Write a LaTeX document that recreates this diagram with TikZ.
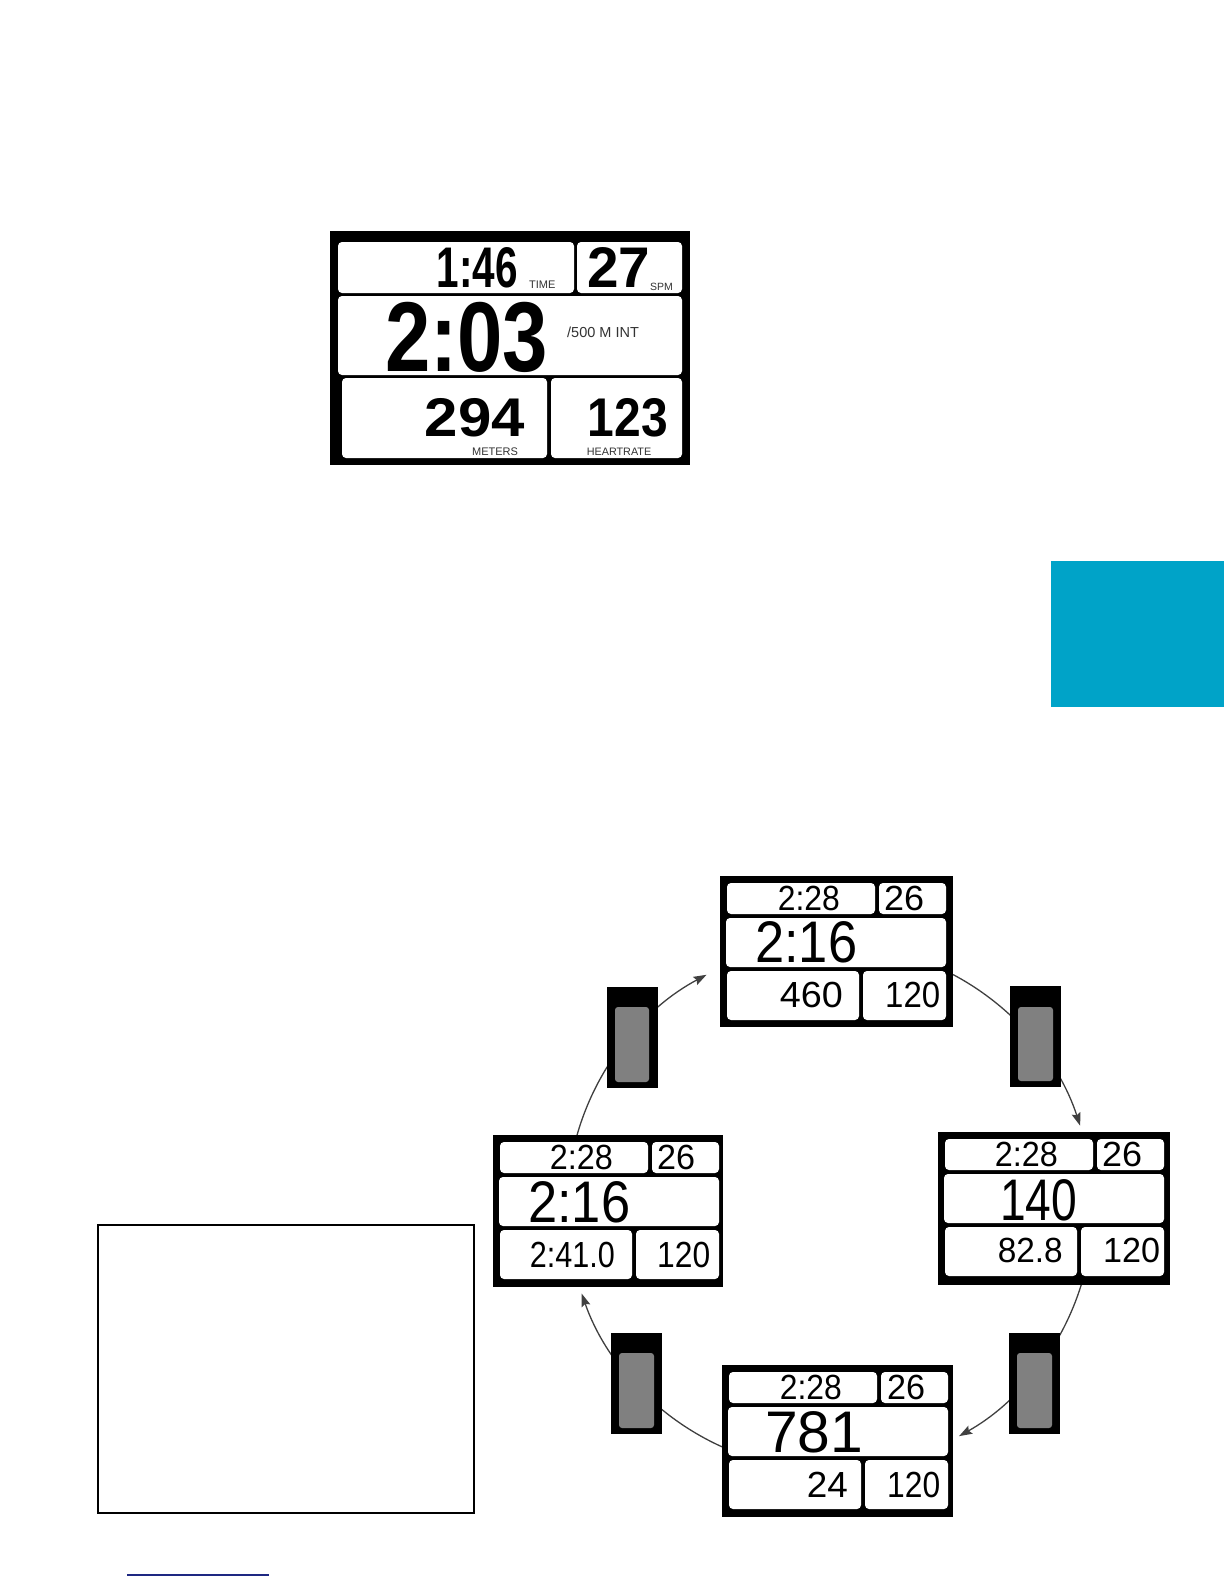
\documentclass[tikz,border=0pt]{standalone}
\usepackage{fontspec}
\usepackage{graphicx}
\setmainfont{Liberation Sans}
\usetikzlibrary{arrows.meta,calc}
\definecolor{tabblue}{RGB}{0,163,200}
\definecolor{btngray}{RGB}{128,128,128}
\definecolor{arcgray}{RGB}{64,64,64}
\definecolor{linkblue}{RGB}{30,40,130}
\newcommand{\lcdtxt}[3]{\resizebox{#1pt}{#2pt}{\smash{#3}\rule{0pt}{0.716em}}}
\newcommand{\minipanels}{%
  \fill[panel] (7,7) rectangle (155,38);
  \fill[panel] (159,7) rectangle (226,38);
  \fill[panel] (6,42) rectangle (226,91);
  \fill[panel] (7,95) rectangle (139,144);
  \fill[panel] (143,95) rectangle (226,144);}
\begin{document}
\begin{tikzpicture}[x=1pt,y=-1pt,
  outerbox/.style 2 args={fill=black, inner sep=0pt, minimum width=#1pt, minimum height=#2pt, anchor=north west},
  panel/.style={fill=white, rounded corners=4pt},
  digits/.style={inner sep=0pt, text=black},
  bigdigits/.style={inner sep=0pt, text=black, font=\bfseries},
  lbl/.style={inner sep=0pt, text=black!80, font=\fontsize{11}{11}\selectfont},
  btnbox/.style={fill=black, inner sep=0pt, minimum width=51pt, minimum height=101pt, anchor=north west},
  btnface/.style={fill=btngray, rounded corners=3pt},
  conn/.style={draw=arcgray, line width=1.3pt, -{Stealth[length=13pt,width=9pt,inset=2pt]}}]
\useasboundingbox (0,0) rectangle (1224,1584);
\fill[white] (0,0) rectangle (1224,1584);

% ---------- main display ----------
\node[outerbox={360}{234}] (main) at (330,231) {};
\fill[panel] (338,242) rectangle (574,293);
\fill[panel] (577,242) rectangle (682,293);
\fill[panel] (338,296) rectangle (682,375);
\fill[panel] (342,378) rectangle (547,458);
\fill[panel] (551,378) rectangle (682,458);
\node[bigdigits, anchor=south east] (mtime) at (518,288) {\lcdtxt{81}{41}{1:46}};
\node[lbl, anchor=base west] (mtimel) at (529,288) {TIME};
\node[bigdigits, anchor=south west] (mspm) at (587,288) {\lcdtxt{63}{41}{27}};
\node[lbl, anchor=base west, font=\fontsize{10.5}{10.5}\selectfont] (mspml) at (650,290) {SPM};
\node[bigdigits, anchor=south west] (mpace) at (385,372) {\lcdtxt{163}{71}{2:03}};
\node[lbl, anchor=base west, font=\fontsize{14.5}{14.5}\selectfont] (mpacel) at (567,337) {/500 M INT};
\node[bigdigits, anchor=south east] (mmet) at (525,437) {\lcdtxt{100}{39}{294}};
\node[lbl, anchor=base] (mmetl) at (495,455) {METERS};
\node[bigdigits, anchor=south east] (mhr) at (668,437) {\lcdtxt{80}{39}{123}};
\node[lbl, anchor=base, font=\fontsize{10.8}{10.8}\selectfont] (mhrl) at (619,455) {HEARTRATE};

% ---------- blue tab ----------
\fill[tabblue] (1051,561) rectangle (1224,707);

% ---------- cycle arcs ----------
\coordinate (cc) at (830,1207);
\coordinate (a1s) at ($(cc)+(195.9:263)$);
\coordinate (a2s) at ($(cc)+(297.9:263)$);
\coordinate (a3s) at ($(cc)+(17.25:263)$);
\coordinate (a4s) at ($(cc)+(114.2:263)$);
\draw[conn] (a1s) arc[start angle=195.9, end angle=242, radius=263];
\draw[conn] (a2s) arc[start angle=297.9, end angle=342, radius=263];
\draw[conn] (a3s) arc[start angle=17.25, end angle=60.6, radius=263];
\draw[conn] (a4s) arc[start angle=114.2, end angle=160.8, radius=263];

% ---------- top small display ----------
\node[outerbox={233}{151}] (dtop) at (720,876) {};
\begin{scope}[shift={(720,876)}]
\minipanels
\node[digits, anchor=south east] (dtopa) at (120,35) {\lcdtxt{62}{25}{2:28}};
\node[digits, anchor=south west] (dtopb) at (164,35) {\lcdtxt{40}{25}{26}};
\node[digits, anchor=south west] (dtopc) at (35,87) {\lcdtxt{102}{42}{2:16}};
\node[digits, anchor=south east] (dtopd) at (123,132) {\lcdtxt{63}{26}{460}};
\node[digits, anchor=south west] (dtope) at (165,132) {\lcdtxt{55}{26}{120}};
\end{scope}

% ---------- right small display ----------
\node[outerbox={232}{153}] (dright) at (938,1132) {};
\begin{scope}[shift={(938,1132)}]
\minipanels
\node[digits, anchor=south east] (dra) at (120,35) {\lcdtxt{63}{25}{2:28}};
\node[digits, anchor=south west] (drb) at (164,35) {\lcdtxt{40}{25}{26}};
\node[digits, anchor=south west] (drc) at (62,89) {\lcdtxt{77}{42}{140}};
\node[digits, anchor=south east] (drd) at (125,131) {\lcdtxt{65}{25}{82.8}};
\node[digits, anchor=south west] (dre) at (165,131) {\lcdtxt{57}{25}{120}};
\end{scope}

% ---------- left small display ----------
\node[outerbox={230}{152}] (dleft) at (493,1135) {};
\begin{scope}[shift={(493,1135)}]
\minipanels
\node[digits, anchor=south east] (dla) at (120,35) {\lcdtxt{63}{25}{2:28}};
\node[digits, anchor=south west] (dlb) at (164,35) {\lcdtxt{38}{25}{26}};
\node[digits, anchor=south west] (dlc) at (35,88) {\lcdtxt{102}{42}{2:16}};
\node[digits, anchor=south east] (dld) at (122,133) {\lcdtxt{85}{26}{2:41.0}};
\node[digits, anchor=south west] (dle) at (164,133) {\lcdtxt{53}{26}{120}};
\end{scope}

% ---------- bottom small display ----------
\node[outerbox={231}{152}] (dbot) at (722,1365) {};
\begin{scope}[shift={(722,1365)}]
\minipanels
\node[digits, anchor=south east] (dba) at (120,35) {\lcdtxt{62}{25}{2:28}};
\node[digits, anchor=south west] (dbb) at (165,35) {\lcdtxt{38}{25}{26}};
\node[digits, anchor=south west] (dbc) at (43,88) {\lcdtxt{98}{42}{781}};
\node[digits, anchor=south east] (dbd) at (126,133) {\lcdtxt{41}{26}{24}};
\node[digits, anchor=south west] (dbe) at (165,133) {\lcdtxt{53}{26}{120}};
\end{scope}

% ---------- buttons ----------
\node[btnbox] (b1) at (607,987) {};
\fill[btnface] (615,1007) rectangle (649,1082);
\node[btnbox] (b2) at (1010,986) {};
\fill[btnface] (1018,1007) rectangle (1053,1081);
\node[btnbox] (b3) at (1009,1333) {};
\fill[btnface] (1017,1353) rectangle (1052,1428);
\node[btnbox] (b4) at (611,1333) {};
\fill[btnface] (619,1353) rectangle (654,1428);

% ---------- empty frame and link line ----------
\node[draw=black, line width=2.3pt, inner sep=0pt, minimum width=376pt, minimum height=288pt, anchor=north west] (frame) at (97,1224) {};
\coordinate (lk1) at (127,1575);
\coordinate (lk2) at (269,1575);
\draw[linkblue, line width=1.2pt] (lk1) -- (lk2);
\end{tikzpicture}
\end{document}
